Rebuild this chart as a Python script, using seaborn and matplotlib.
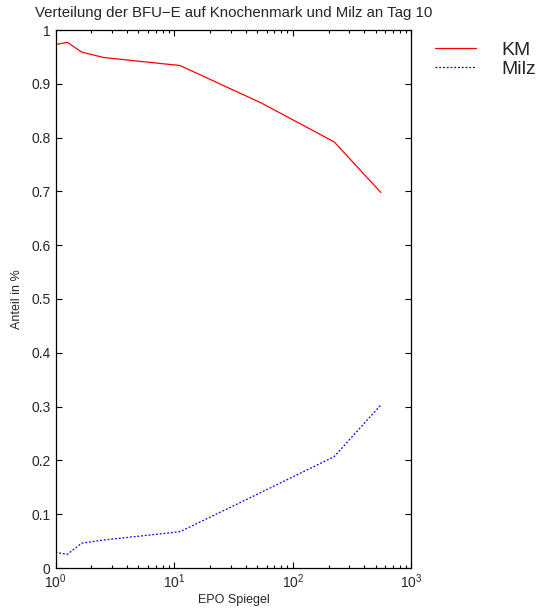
import matplotlib
matplotlib.use("Agg")
import matplotlib.pyplot as plt
import seaborn as sns
import pandas as pd
from matplotlib.ticker import LogLocator, FixedLocator

epo = [1.0, 1.26, 1.66, 2.53, 5.0, 11.2, 54.6, 223.0, 552.0]
km = [0.973, 0.977, 0.959, 0.949, 0.942, 0.934, 0.864, 0.792, 0.698]
milz = [0.029, 0.0255, 0.046, 0.052, 0.059, 0.0675, 0.141, 0.207, 0.303]
series_names = ["KM", "Milz"]

sns.set_style("ticks")
plt.rcParams['font.family'] = ['Liberation Sans', 'DejaVu Sans']
plt.rcParams['mathtext.fontset'] = 'custom'
plt.rcParams['mathtext.rm'] = 'Liberation Sans'

df = pd.DataFrame({
    "EPO": epo * 2,
    "Anteil": km + milz,
    "Serie": [series_names[0]] * len(epo) + [series_names[1]] * len(epo),
})

fig = plt.figure(figsize=(5.4, 6.15), dpi=100)
ax = fig.add_axes([55.5 / 540, 1 - 568 / 615, (411.5 - 55.5) / 540, (568 - 30) / 615])

sns.lineplot(data=df, x="EPO", y="Anteil", hue="Serie", style="Serie",
             palette={"KM": "#ff0000", "Milz": "#0000ff"},
             dashes={"KM": "", "Milz": (1.5, 1.5)}, linewidth=0.9, ax=ax, legend=False)

ax.set_xscale("log")
ax.set_xlim(1, 1000)
ax.set_ylim(0, 1)
ax.yaxis.set_major_locator(FixedLocator([i / 10 for i in range(11)]))
ax.set_yticklabels(["0"] + [f"{i/10:.1f}" for i in range(1, 10)] + ["1"])
ax.xaxis.set_major_locator(FixedLocator([1, 10, 100, 1000]))
ax.set_xticklabels([r"$10^{0}$", r"$10^{1}$", r"$10^{2}$", r"$10^{3}$"])
ax.xaxis.set_minor_locator(LogLocator(base=10, subs=range(2, 10)))

ax.tick_params(axis="both", which="both", direction="in", top=True, right=True,
               labelsize=10, width=0.8, color="black")
ax.tick_params(axis="both", which="major", length=4)
ax.tick_params(axis="both", which="minor", length=2.5)
for s in ax.spines.values():
    s.set_visible(True)
    s.set_linewidth(0.9)
    s.set_color("black")

ax.set_xlabel("EPO Spiegel", fontsize=9, labelpad=2)
ax.set_ylabel("Anteil in %", fontsize=9, labelpad=6)
ax.set_title("Verteilung der BFU\u2212E auf Knochenmark und Milz an Tag 10", fontsize=10.8, pad=9)

handles = ax.get_lines()[:2]
fig.legend(handles, series_names, loc="upper left", bbox_to_anchor=(435 / 540, 1 - 41 / 615),
           frameon=False, fontsize=14, handlelength=2.1, handletextpad=1.3,
           labelspacing=0.1, borderaxespad=0, borderpad=0)

fig.savefig("out.png", dpi=100, facecolor="white")
